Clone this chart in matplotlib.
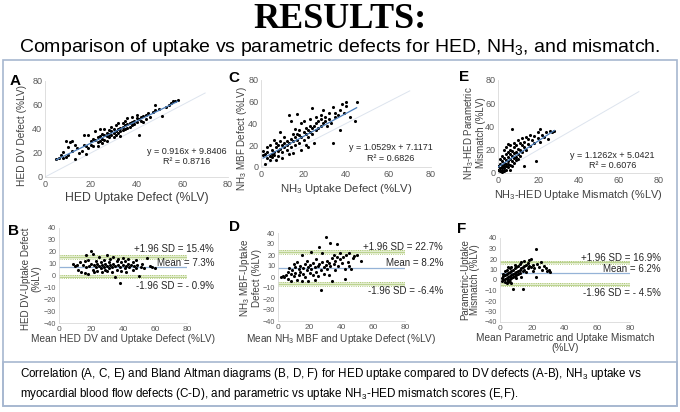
import matplotlib.pyplot as plt
from matplotlib.patches import Rectangle

plt.rcParams['font.family'] = ['Liberation Sans', 'DejaVu Sans']
plt.rcParams['mathtext.fontset'] = 'custom'
plt.rcParams['mathtext.rm'] = 'Liberation Sans'

# --- A: HED uptake vs DV defect ---
a_x = [5, 6, 7, 8, 8, 9, 9, 10, 10, 11, 12, 12, 13, 13, 14, 15, 16, 17, 17, 18, 18, 19, 19, 20, 20,
       21, 21, 22, 22, 23, 23, 23, 24, 24, 24, 25, 25, 25, 26, 26, 26, 27, 27, 27, 28, 28, 28, 29, 29, 29,
       30, 30, 30, 31, 31, 31, 32, 32, 32, 33, 33, 33, 34, 34, 34, 35, 35, 35, 36, 36, 36, 37, 37, 38, 38,
       38, 39, 39, 40, 40, 40, 41, 41, 42, 42, 43, 43, 44, 44, 45, 46, 47, 48, 48, 50, 51, 53, 54, 55, 56,
       57, 58]
a_y = [15, 16, 18, 16, 21, 17, 30, 25, 18, 29, 22, 30, 27, 15, 24, 20, 22, 27, 35, 26, 19, 35, 24, 30, 27,
       32, 26, 31, 38, 29, 33, 26, 30, 34, 40, 32, 36, 28, 35, 31, 40, 34, 37, 30, 36, 39, 33, 38, 35, 42,
       37, 40, 33, 38, 43, 35, 40, 37, 45, 41, 38, 34, 42, 45, 39, 43, 40, 47, 44, 41, 49, 45, 42, 46, 50,
       43, 47, 44, 49, 52, 46, 48, 35, 50, 47, 51, 46, 52, 48, 53, 50, 54, 60, 56, 57, 51, 58, 60, 62, 63,
       63, 64]

# --- C: NH3 uptake vs MBF defect ---
c_x = [1, 1, 2, 2, 3, 3, 3, 4, 4, 4, 5, 5, 5, 6, 6, 6, 7, 7, 7, 8, 8, 8, 9, 9, 9, 10, 10, 10, 11, 11, 11,
       12, 12, 12, 13, 13, 13, 14, 14, 14, 15, 15, 15, 16, 16, 16, 17, 17, 17, 18, 18, 18, 19, 19, 19,
       20, 20, 20, 21, 21, 21, 22, 22, 22, 23, 23, 23, 24, 24, 24, 25, 25, 26, 26, 26, 27, 27, 28, 28, 28,
       29, 29, 30, 30, 31, 32, 32, 33, 34, 34, 35, 35, 36, 37, 37, 38, 39, 40, 40, 42, 44, 45]
c_y = [15, 11, 3, 12, 8, 14, 18, 10, 6, 20, 12, 16, 9, 25, 14, 11, 18, 6, 22, 15, 20, 10, 32, 17, 24,
       14, 20, 8, 22, 18, 28, 16, 24, 20, 48, 22, 12, 26, 18, 42, 24, 30, 13, 20, 28, 35, 30, 25, 49,
       22, 34, 29, 28, 40, 16, 32, 25, 42, 30, 20, 36, 34, 28, 18, 38, 32, 44, 36, 30, 54, 38, 22, 40, 34,
       46, 42, 36, 48, 44, 38, 40, 52, 46, 42, 38, 50, 44, 40, 55, 22, 50, 46, 48, 52, 34, 58, 50, 60, 56,
       46, 42, 60]

# --- E: uptake vs parametric mismatch ---
e_x = [0, 0,
       1, 1, 1, 1,
       2, 2, 2, 2, 2, 2,
       3, 3, 3, 3, 3, 3,
       4, 4, 4, 4, 4, 4,
       5, 5, 5, 5, 5, 5,
       6, 6, 6, 6, 6, 6,
       7, 7, 7, 7, 7,
       8, 8, 8, 8, 8,
       9, 9, 9, 9,
       10, 10, 10, 10,
       11, 11, 11, 12, 12, 12, 13, 13, 13, 14, 14, 15, 15, 16, 16, 17, 18, 18, 19, 20, 20,
       21, 21, 22, 23, 24, 25, 26, 27, 28]
e_y = [3, 6,
       2, 8, 4, 12,
       1, 5, 10, 15, 7, 3,
       4, 9, 13, 20, 6, 2,
       8, 16, 11, 3, 22, 6,
       10, 5, 18, 14, 25, 8,
       12, 20, 7, 16, 3, 24,
       15, 10, 38, 19, 6,
       13, 22, 17, 9, 26,
       11, 24, 18, 14,
       16, 28, 12, 21,
       20, 15, 26, 18, 24, 30, 22, 6, 27, 20, 31, 25, 29, 23, 33, 28, 26, 32, 10, 30, 35,
       38, 27, 33, 31, 35, 29, 36, 35, 36]

# --- B: Bland-Altman HED ---
b_mean = [9, 10, 11, 12, 13, 14, 15, 16, 16, 17, 17, 18, 18, 19, 20, 20, 21, 21, 22, 22, 23, 23, 24, 24,
          25, 25, 26, 26, 27, 27, 28, 28, 29, 29, 30, 30, 30, 31, 31, 32, 32, 33, 33, 34, 34, 35, 35, 36,
          36, 37, 37, 38, 38, 39, 39, 40, 40, 41, 41, 42, 42, 43, 43, 44, 45, 46, 46, 47, 48, 48, 49, 50,
          51, 52, 53, 55, 57, 58, 60]
b_diff = [10, 8, 9, 5, 11, 3, 9, 12, 2, 17, 7, 13, 1, 8, 21, 10, 5, 18, 9, 3, 12, 7, 10, 4, 16, 8, 6, 11,
          9, 3, 13, 7, 10, 5, 8, 17, 4, 11, 6, 9, 14, 7, 3, 10, 16, 8, -1, 12, 5, 9, 14, -6, 7, 11, 4, 9,
          15, 6, 12, 8, 3, 10, 14, 7, 9, 5, 11, 8, 13, 6, 9, 0, 7, 10, 6, 15, 8, 7, 6]

# --- D: Bland-Altman NH3 ---
d_mean = [2, 3, 4, 5, 6, 6, 7, 8, 8, 9, 10, 10, 11, 11, 12, 12, 13, 13, 14, 14, 15, 15, 16, 16, 17, 17,
          18, 18, 19, 19, 20, 20, 21, 21, 22, 22, 23, 23, 24, 24, 25, 25, 26, 26, 27, 27, 28, 28, 29, 29,
          30, 30, 31, 31, 32, 32, 33, 33, 34, 34, 35, 35, 36, 36, 37, 37, 38, 39, 39, 40, 41, 42, 42, 43,
          44, 45, 45, 46, 47, 48, 50, 52]
d_diff = [0, 1, 0, 2, -2, 5, 8, 3, -4, 6, 12, 1, 9, 4, 14, -3, 7, 2, 10, 5, 20, -4, 8, 3, 12, 0, 6, 15,
          -4, 9, 4, 11, 7, 23, 2, 13, 9, -3, 16, 5, 10, 1, 12, 27, -12, 6, 14, 22, 9, 3, 36, 11, 7, 15, 13,
          2, 31, 10, -4, 17, 12, 20, 6, 15, 30, 18, 10, 16, 22, 13, 18, -2, 7, 20, 14, 10, 22, 7, 17, 19,
          20, 15]

# --- F: Bland-Altman mismatch ---
f_mean = [1, 1, 2, 2, 2, 3, 3, 3, 3, 4, 4, 4, 4, 5, 5, 5, 5, 5, 6, 6, 6, 6, 6, 7, 7, 7, 7, 7, 8, 8, 8,
          8, 9, 9, 9, 9, 10, 10, 10, 10, 11, 11, 11, 12, 12, 12, 13, 13, 13, 14, 14, 14, 15, 15, 15, 16,
          16, 17, 17, 18, 18, 19, 19, 20, 20, 21, 22, 22, 23, 24, 25, 26, 27, 28, 29, 30, 31]
f_diff = [2, -1, 4, 0, 6, 5, 1, -2, 9, 6, 2, -3, 10, 7, 3, -1, 12, 0, 8, 4, 1, -2, 11, 9, 5, 2, -3, 12,
          10, 6, 3, -9, 11, 7, 4, 14, 12, 8, 5, 2, 13, 9, 6, 15, 10, 7, 17, 11, 3, -9, 12, 9, 18, 13, 10,
          14, 8, 16, 11, 19, 13, 20, 12, 14, 9, 11, 30, 3, 15, 12, 17, 10, 13, 11, 9, 10, 8]

# fitted equations and Bland-Altman limits as printed on the chart
fits = {'A': (0.916, 9.8406, 'y = 0.916x + 9.8406\nR² = 0.8716'),
        'C': (1.0529, 7.1171, 'y = 1.0529x + 7.1171\nR² = 0.6826'),
        'E': (1.1262, 5.0421, 'y = 1.1262x + 5.0421\nR² = 0.6076')}
limits = {'B': (15.4, 7.3, -0.9, '+1.96 SD = 15.4%', 'Mean = 7.3%', '-1.96 SD = - 0.9%'),
          'D': (22.7, 8.2, -6.4, '+1.96 SD = 22.7%', 'Mean = 8.2%', '-1.96 SD = -6.4%'),
          'F': (16.9, 6.2, -4.5, '+1.96 SD = 16.9%', 'Mean = 6.2%', '-1.96 SD = - 4.5%')}

W, H = 680, 412
fig = plt.figure(figsize=(W / 100, H / 100), dpi=100)


def px_axes(x0, y0, x1, y1):
    return fig.add_axes([x0 / W, 1 - y1 / H, (x1 - x0) / W, (y1 - y0) / H])


def px_text(x, y, txt, **kw):
    fig.text(x / W, 1 - y / H, txt, **kw)


def style(ax):
    for s in ['top', 'right']:
        ax.spines[s].set_visible(False)
    for s in ['left', 'bottom']:
        ax.spines[s].set_color('#d9d9d9')
        ax.spines[s].set_linewidth(0.6)
    ax.tick_params(length=0, labelsize=6.5, colors='#595959', pad=2)


def ylab(pos, txt, fs):
    px_text(pos[0], pos[1], txt, fontsize=fs, rotation=90, ha='center', va='center',
            color='#404040', linespacing=1.0, multialignment='center')


def scatter_panel(box, xs, ys, key, xlab, lab_fs, tpos):
    ax = px_axes(*box)
    style(ax)
    ax.plot([0, 70], [0, 70], color='#dde4ee', lw=0.7)
    ax.scatter(xs, ys, s=5, color='black', zorder=3, linewidths=0)
    m, b, txt = fits[key]
    lx = [min(xs), max(xs)]
    ax.plot(lx, [m * v + b for v in lx], color='#4f81bd', lw=0.9, zorder=4)
    ax.set_xlim(0, 80)
    ax.set_ylim(0, 80)
    ax.set_xticks([0, 20, 40, 60, 80])
    ax.set_yticks([0, 20, 40, 60, 80])
    ax.set_xlabel(xlab, fontsize=lab_fs, color='#404040', labelpad=2)
    ax.text(tpos[0], tpos[1], txt, fontsize=6.5, ha='center', va='center', color='#262626')


def ba_panel(box, xs, ys, key, xlab, tx, ty):
    ax = px_axes(*box)
    style(ax)
    up, mean, lo, t1, t2, t3 = limits[key]
    for v in (up, lo):
        ax.fill_between([0, 80], v - 1.6, v + 1.6, color='#e3edcf', lw=0, zorder=1)
        ax.plot([0, 80], [v - 1.6, v - 1.6], color='#9bbb59', lw=0.6, ls=':', zorder=2)
        ax.plot([0, 80], [v + 1.6, v + 1.6], color='#9bbb59', lw=0.6, ls=':', zorder=2)
        ax.plot([0, 80], [v, v], color='#b5cf86', lw=0.6, zorder=2)
    ax.plot([0, 80], [mean, mean], color='#95b3d7', lw=0.9, zorder=2)
    ax.scatter(xs, ys, s=5, color='black', zorder=3, linewidths=0)
    ax.set_xlim(0, 80)
    ax.set_ylim(-40, 40)
    ax.set_xticks([0, 20, 40, 60, 80])
    ax.set_yticks(range(-40, 41, 10))
    ax.tick_params(axis='x', labelsize=6)
    ax.tick_params(axis='y', labelsize=5.2)
    ax.set_xlabel(xlab, fontsize=7.3, color='#404040', labelpad=1, linespacing=1.0)
    for txt, yy in zip((t1, t2, t3), ty):
        ax.text(tx, yy, txt, fontsize=7, ha='right', va='center', color='#262626', clip_on=False)


nh3 = 'NH$_\\mathrm{3}$'
scatter_panel((45, 81, 228, 177), a_x, a_y, 'A', 'HED Uptake Defect (%LV)', 8.8, (62, 17))
scatter_panel((261, 80, 431, 167), c_x, c_y, 'C', nh3 + ' Uptake Defect (%LV)', 8.2, (61, 13))
scatter_panel((498, 80, 659, 173), e_x, e_y, 'E', nh3 + '-HED Uptake Mismatch (%LV)', 7.8, (57, 11))

ba_panel((59, 228, 187, 323), b_mean, b_diff, 'B', 'Mean HED DV and Uptake Defect (%LV)',
         97, (22.4, 10.6, -8.7))
ba_panel((278, 233, 405, 321), d_mean, d_diff, 'D', 'Mean ' + nh3 + ' MBF and Uptake Defect (%LV)',
         104, (27.3, 12.7, -12.7))
ba_panel((500, 238, 630, 322), f_mean, f_diff, 'F', 'Mean Parametric and Uptake Mismatch\n(%LV)',
         99, (21, 10.5, -12.4))

# y axis labels, placed by hand as on the poster
ylab((22, 135), 'HED DV Defect (%LV)', 7.3)
ylab((242, 139), nh3 + ' MBF Defect (%LV)', 7.1)
ylab((474, 133), nh3 + '-HED Parametric\nMismatch (%LV)', 7.0)
ylab((31, 279), 'HED DV-Uptake Defect\n(%LV)', 7.1)
ylab((250, 278), nh3 + ' MBF-Uptake\nDefect (%LV)', 7.1)
ylab((470, 280), 'Parametric-Uptake\nMismatch (%LV)', 7.0)

# panel letters
for pos, t in [((15, 81), 'A'), ((234, 78), 'C'), ((464, 77), 'E'),
               ((13, 231), 'B'), ((234, 227), 'D'), ((462, 229), 'F')]:
    px_text(pos[0], pos[1], t, fontsize=11, fontweight='bold', ha='center', va='center')

# frames
fig.patches.append(Rectangle((3 / W, 1 - 406 / H), 674 / W, 346 / H, transform=fig.transFigure,
                             fill=False, edgecolor='#a7b7d0', lw=1.2))
fig.patches.append(Rectangle((3 / W, 1 - 406 / H), 674 / W, 44 / H, transform=fig.transFigure,
                             fill=False, edgecolor='#a7b7d0', lw=1.2))

px_text(340, 19, 'RESULTS:', family='Liberation Serif', fontsize=26, fontweight='bold',
        ha='center', va='center')
px_text(340, 47, 'Comparison of uptake vs parametric defects for HED, NH$_\\mathrm{3}$, and mismatch.',
        fontsize=14, ha='center', va='center')
px_text(20, 384,
        'Correlation (A, C, E) and Bland Altman diagrams (B, D, F) for HED uptake compared to DV defects '
        '(A-B), NH$_\\mathrm{3}$ uptake vs\nmyocardial blood flow defects (C-D), and parametric vs uptake '
        'NH$_\\mathrm{3}$-HED mismatch scores (E,F).',
        fontsize=8.4, ha='left', va='center', linespacing=1.3)

fig.savefig('out.png', dpi=100)
